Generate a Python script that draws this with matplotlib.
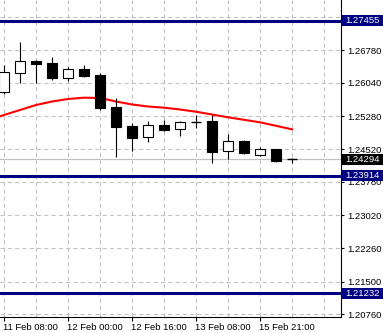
import matplotlib
matplotlib.use("Agg")
import matplotlib.pyplot as plt
import matplotlib.transforms as mtransforms
from matplotlib.patches import Rectangle

plt.rcParams['font.family'] = ['Liberation Sans', 'DejaVu Sans']

# OHLC data (4H candles)
opens  = [1.25821, 1.26268, 1.26536, 1.26490, 1.26154, 1.26353, 1.26216, 1.25486, 1.25052, 1.24794,
          1.25081, 1.24976, 1.25150, 1.25166, 1.24488, 1.24703, 1.24397, 1.24527, 1.24305]
highs  = [1.26444, 1.26969, 1.26547, 1.26627, 1.26399, 1.26451, 1.26268, 1.25684, 1.25120, 1.25166,
          1.25189, 1.25166, 1.25314, 1.25303, 1.24876, 1.24725, 1.24566, 1.24527, 1.24328]
lows   = [1.25782, 1.26026, 1.26033, 1.26102, 1.26079, 1.26177, 1.25417, 1.24351, 1.24481, 1.24693,
          1.24945, 1.24830, 1.24995, 1.24214, 1.24298, 1.24406, 1.24360, 1.24223, 1.24200]
closes = [1.26284, 1.26529, 1.26474, 1.26154, 1.26346, 1.26200, 1.25463, 1.25036, 1.24785, 1.25075,
          1.24967, 1.25143, 1.25150, 1.24458, 1.24709, 1.24442, 1.24520, 1.24260, 1.24294]

# moving average, first value belongs to the candle before the visible window
ma_values = [1.25189, 1.25303, 1.25417, 1.25531, 1.25611, 1.25668, 1.25698, 1.25691, 1.25611, 1.25543,
             1.25497, 1.25470, 1.25428, 1.25378, 1.25314, 1.25250, 1.25193, 1.25136, 1.25056, 1.24976]

# horizontal levels
level_prices = [1.27455, 1.23914, 1.21232]
current_price = 1.24294

# axis ticks
y_ticks = [1.27540, 1.26780, 1.26040, 1.25280, 1.24520, 1.23780, 1.23020, 1.22260, 1.21500, 1.20760]
x_label_idx = [0, 4, 8, 12, 16]
x_labels = ["11 Feb 08:00", "12 Feb 00:00", "12 Feb 16:00", "13 Feb 08:00", "15 Feb 21:00"]

W, H = 383, 333
fig = plt.figure(figsize=(W / 100, H / 100), dpi=100)
ax_left, ax_right, ax_top, ax_bottom = 0, 341, 0, 317
ax = fig.add_axes([ax_left / W, 1 - ax_bottom / H, (ax_right - ax_left) / W, (ax_bottom - ax_top) / H])

px = 0.00022828
ymax = 1.27540 + 17 * px
ymin = 1.27540 - 300 * px
ax.set_ylim(ymin, ymax)
ax.set_xlim(-0.25, 21.06)

navy = '#000080'
grid_c = '#c0c0c0'

# grid
for i in range(0, 22, 2):
    ax.axvline(i, color=grid_c, lw=0.75, ls=(0, (4, 3)), zorder=0)
for yt in y_ticks:
    ax.axhline(yt, color=grid_c, lw=0.75, ls=(0, (4, 3)), zorder=0)

# current price line
ax.axhline(current_price, color=grid_c, lw=0.9, zorder=1)

# levels
for lp in level_prices:
    ax.axhline(lp, color=navy, lw=2.2, zorder=2)

# MA
ma_x = list(range(-1, len(ma_values) - 1))
ax.plot(ma_x, ma_values, color='#ff0000', lw=1.5, zorder=3, solid_joinstyle='miter')

# candles
n = len(opens)
bw = 0.66
for i in range(n):
    o, h, l, c = opens[i], highs[i], lows[i], closes[i]
    ax.vlines(i, l, h, color='black', lw=0.8, zorder=4)
    lo, hi = min(o, c), max(o, c)
    fc = 'white' if c > o else 'black'
    if hi - lo < px:
        ax.hlines(o, i - bw / 2, i + bw / 2, color='black', lw=1.0, zorder=5)
    else:
        ax.bar(i, hi - lo, bottom=lo, width=bw, facecolor=fc, edgecolor='black', lw=0.8, zorder=5)

# spines
for s in ['top', 'left']:
    ax.spines[s].set_visible(False)
ax.spines['right'].set_color('black')
ax.spines['bottom'].set_color('black')
ax.spines['right'].set_linewidth(0.8)
ax.spines['bottom'].set_linewidth(0.8)

ax.yaxis.tick_right()
ax.set_yticks(y_ticks)
ax.set_yticklabels([f"{v:.5f}" for v in y_ticks])
ax.tick_params(axis='y', direction='out', length=2.5, width=0.8, pad=2, labelsize=6.8, colors='black')

ax.set_xticks(x_label_idx)
ax.set_xticklabels(x_labels, ha='left')
ax.tick_params(axis='x', direction='out', length=3, width=0.8, pad=1.5, labelsize=6.8)
for lbl in ax.get_xticklabels():
    lbl.set_horizontalalignment('left')
    lbl.set_x(lbl.get_position()[0])
offset = mtransforms.ScaledTranslation(-1.5 / 100, 0, fig.dpi_scale_trans)
for lbl in ax.get_xticklabels():
    lbl.set_transform(lbl.get_transform() + offset)

# price boxes on the right
trans = mtransforms.blended_transform_factory(ax.transAxes, ax.transData)
box_w = 43 / 341
box_h = 11 * px
for lp, fc in [(level_prices[0], navy), (level_prices[1], navy), (level_prices[2], navy), (current_price, 'black')]:
    r = Rectangle((1.0 + 1 / 341, lp - box_h / 2), box_w, box_h, transform=trans,
                  facecolor=fc, edgecolor='none', clip_on=False, zorder=10)
    ax.add_patch(r)
    ax.text(1.0 + 4 / 341, lp, f"{lp:.5f}", transform=trans, ha='left', va='center',
            color='white', fontsize=6.8, clip_on=False, zorder=11)

fig.savefig('out.png', dpi=100)
